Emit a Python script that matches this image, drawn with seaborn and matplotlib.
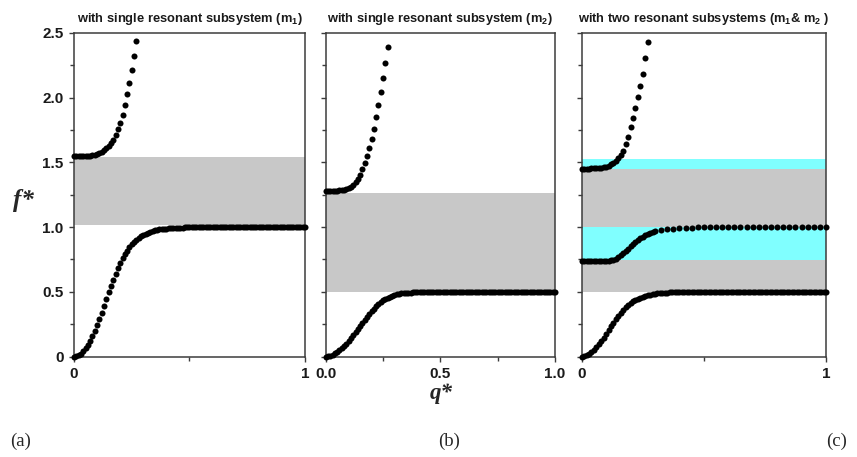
import matplotlib
matplotlib.use("Agg")
import matplotlib.pyplot as plt
import seaborn as sns

# ---- data -------------------------------------------------------------
# normalised wavenumber grid shared by the branches
q_grid = [
    0.00, 0.01, 0.02, 0.03, 0.04, 0.05, 0.06, 0.07, 0.08, 0.09,
    0.10, 0.11, 0.12, 0.13, 0.14, 0.15, 0.16, 0.17, 0.18, 0.19,
    0.20, 0.21, 0.22, 0.23, 0.24, 0.25, 0.26, 0.27, 0.28, 0.29,
    0.30, 0.31, 0.32, 0.33, 0.34, 0.35, 0.36, 0.37, 0.38, 0.39,
    0.40, 0.41, 0.42, 0.43, 0.44, 0.45, 0.46, 0.47, 0.48, 0.49,
    0.50, 0.51, 0.52, 0.53, 0.54, 0.55, 0.56, 0.57, 0.58, 0.59,
    0.60, 0.61, 0.62, 0.63, 0.64, 0.65, 0.66, 0.67, 0.68, 0.69,
    0.70, 0.71, 0.72, 0.73, 0.74, 0.75, 0.76, 0.77, 0.78, 0.79,
    0.80, 0.81, 0.82, 0.83, 0.84, 0.85, 0.86, 0.87, 0.88, 0.89,
    0.90, 0.91, 0.92, 0.93, 0.94, 0.95, 0.96, 0.97, 0.98, 0.99,
    1.00,
]

# (a) single resonator m1
a_lower = [
    0.000, 0.003, 0.010, 0.022, 0.040, 0.063, 0.090, 0.121, 0.157, 0.197,
    0.240, 0.290, 0.340, 0.392, 0.444, 0.495, 0.545, 0.593, 0.640, 0.683,
    0.722, 0.758, 0.790, 0.818, 0.843, 0.866, 0.885, 0.902, 0.917, 0.930,
    0.941, 0.950, 0.958, 0.964, 0.970, 0.975, 0.979, 0.982, 0.985, 0.987,
    0.989, 0.991, 0.992, 0.993, 0.994, 0.995, 0.996, 0.996, 0.997, 0.997,
    0.998, 0.998, 0.998, 0.999, 0.999, 0.999, 0.999, 0.999, 1.000, 1.000,
    1.000, 1.000, 1.000, 1.000, 1.000, 1.000, 1.000, 1.000, 1.000, 1.000,
    1.000, 1.000, 1.000, 1.000, 1.000, 1.000, 1.000, 1.000, 1.000, 1.000,
    1.000, 1.000, 1.000, 1.000, 1.000, 1.000, 1.000, 1.000, 1.000, 1.000,
    1.000, 1.000, 1.000, 1.000, 1.000, 1.000, 1.000, 1.000, 1.000, 1.000,
    1.000,
]
a_upper = [
    1.550, 1.550, 1.550, 1.550, 1.551, 1.551, 1.552, 1.553, 1.555, 1.559,
    1.565, 1.573, 1.584, 1.598, 1.613, 1.628, 1.648, 1.675, 1.712, 1.755,
    1.806, 1.868, 1.945, 2.027, 2.117, 2.215, 2.320, 2.440,
]
a_gap = [(1.02, 1.54)]

# (b) single resonator m2
b_lower = [
    0.000, 0.002, 0.007, 0.015, 0.026, 0.038, 0.052, 0.066, 0.082, 0.100,
    0.120, 0.141, 0.163, 0.186, 0.209, 0.233, 0.257, 0.281, 0.305, 0.328,
    0.350, 0.370, 0.389, 0.406, 0.421, 0.434, 0.445, 0.455, 0.463, 0.470,
    0.475, 0.480, 0.484, 0.487, 0.489, 0.491, 0.493, 0.494, 0.495, 0.496,
    0.497, 0.497, 0.498, 0.498, 0.498, 0.499, 0.499, 0.499, 0.499, 0.500,
    0.500, 0.500, 0.500, 0.500, 0.500, 0.500, 0.500, 0.500, 0.500, 0.500,
    0.500, 0.500, 0.500, 0.500, 0.500, 0.500, 0.500, 0.500, 0.500, 0.500,
    0.500, 0.500, 0.500, 0.500, 0.500, 0.500, 0.500, 0.500, 0.500, 0.500,
    0.500, 0.500, 0.500, 0.500, 0.500, 0.500, 0.500, 0.500, 0.500, 0.500,
    0.500, 0.500, 0.500, 0.500, 0.500, 0.500, 0.500, 0.500, 0.500, 0.500,
    0.500,
]
b_upper = [
    1.280, 1.280, 1.280, 1.280, 1.281, 1.282, 1.283, 1.285, 1.288, 1.293,
    1.301, 1.312, 1.327, 1.347, 1.373, 1.405, 1.448, 1.497, 1.553, 1.612,
    1.680, 1.760, 1.850, 1.945, 2.045, 2.150, 2.265, 2.395,
]
b_gap = [(0.50, 1.267)]

# (c) both resonators m1 & m2
c_lower = [
    0.000, 0.003, 0.010, 0.020, 0.034, 0.051, 0.071, 0.094, 0.119, 0.146,
    0.174, 0.203, 0.232, 0.261, 0.289, 0.315, 0.339, 0.361, 0.381, 0.398,
    0.413, 0.426, 0.437, 0.447, 0.455, 0.462, 0.468, 0.473, 0.477, 0.481,
    0.484, 0.487, 0.489, 0.491, 0.493, 0.494, 0.495, 0.496, 0.497, 0.497,
    0.498, 0.498, 0.498, 0.499, 0.499, 0.499, 0.499, 0.500, 0.500, 0.500,
    0.500, 0.500, 0.500, 0.500, 0.500, 0.500, 0.500, 0.500, 0.500, 0.500,
    0.500, 0.500, 0.500, 0.500, 0.500, 0.500, 0.500, 0.500, 0.500, 0.500,
    0.500, 0.500, 0.500, 0.500, 0.500, 0.500, 0.500, 0.500, 0.500, 0.500,
    0.500, 0.500, 0.500, 0.500, 0.500, 0.500, 0.500, 0.500, 0.500, 0.500,
    0.500, 0.500, 0.500, 0.500, 0.500, 0.500, 0.500, 0.500, 0.500, 0.500,
    0.500,
]
c_mid_q = [
    0.00, 0.01, 0.02, 0.03, 0.04, 0.05, 0.06, 0.07, 0.08, 0.09,
    0.10, 0.11, 0.12, 0.13, 0.14, 0.15, 0.16, 0.17, 0.18, 0.19,
    0.20, 0.21, 0.22, 0.23, 0.24, 0.25, 0.26, 0.27, 0.28, 0.29,
    0.30, 0.325, 0.350, 0.375, 0.400, 0.425, 0.450, 0.475, 0.500, 0.525,
    0.550, 0.575, 0.600, 0.625, 0.650, 0.675, 0.700, 0.725, 0.750, 0.775,
    0.800, 0.825, 0.850, 0.875, 0.900, 0.925, 0.950, 0.975, 1.000,
]
c_mid = [
    0.735, 0.735, 0.735, 0.735, 0.735, 0.735, 0.736, 0.736, 0.737, 0.738,
    0.739, 0.741, 0.744, 0.748, 0.757, 0.768, 0.782, 0.798, 0.816, 0.834,
    0.852, 0.869, 0.885, 0.900, 0.914, 0.927, 0.938, 0.948, 0.956, 0.962,
    0.967, 0.974, 0.982, 0.987, 0.991, 0.994, 0.996, 0.997, 0.998, 0.999,
    0.999, 1.000, 1.000, 1.000, 1.000, 1.000, 1.000, 1.000, 1.000, 1.000,
    1.000, 1.000, 1.000, 1.000, 1.000, 1.000, 1.000, 1.000, 1.000,
]
c_upper = [
    1.452, 1.452, 1.452, 1.452, 1.453, 1.453, 1.454, 1.455, 1.457, 1.461,
    1.466, 1.473, 1.484, 1.497, 1.514, 1.535, 1.558, 1.590, 1.640, 1.700,
    1.770, 1.845, 1.920, 2.005, 2.092, 2.185, 2.310, 2.430,
]
c_gap_bragg = [(0.499, 0.742), (0.998, 1.448)]
c_gap_local = [(0.742, 0.998), (1.448, 1.528)]

titles = [
    "with single resonant subsystem (m$_1$)",
    "with single resonant subsystem (m$_2$)",
    "with two resonant subsystems (m$_1$& m$_2$ )",
]
panel_tags = ["(a)", "(b)", "(c)"]
y_ticks = [0, 0.5, 1.0, 1.5, 2.0, 2.5]
y_ticklabels = ["0", "0.5", "1.0", "1.5", "2.0", "2.5"]

# ---- styling ----------------------------------------------------------
sns.set_style("ticks")
plt.rcParams["font.family"] = ["Liberation Sans", "DejaVu Sans"]
plt.rcParams["mathtext.default"] = "regular"

GRAY = "#c8c8c8"
CYAN = "#80ffff"
SPINE = "#3c3c3c"
W, H = 857, 457

fig = plt.figure(figsize=(W / 100, H / 100), dpi=100)


def px_axes(left, right, top=33, bottom=356.5):
    return fig.add_axes([left / W, 1 - bottom / H, (right - left) / W, (bottom - top) / H])


axes = [px_axes(74, 305), px_axes(325.7, 555), px_axes(581.7, 826)]

branches = [
    [(q_grid, a_lower), (q_grid[:len(a_upper)], a_upper)],
    [(q_grid, b_lower), (q_grid[:len(b_upper)], b_upper)],
    [(q_grid, c_lower), (c_mid_q, c_mid), (q_grid[:len(c_upper)], c_upper)],
]
bands = [
    [(a_gap, GRAY)],
    [(b_gap, GRAY)],
    [(c_gap_bragg, GRAY), (c_gap_local, CYAN)],
]

for i, ax in enumerate(axes):
    ax.set_xlim(0, 1)
    ax.set_ylim(0, 2.5)
    for spans, col in bands[i]:
        for lo, hi in spans:
            ax.axhspan(lo, hi, color=col, lw=0, zorder=0)
    for qs, fs in branches[i]:
        sns.scatterplot(x=qs, y=fs, ax=ax, color="black", s=19, linewidth=0,
                        clip_on=False, zorder=3, legend=False)

    for sp in ax.spines.values():
        sp.set_visible(True)
        sp.set_color(SPINE)
        sp.set_linewidth(1.1)

    ax.set_yticks(y_ticks)
    ax.set_yticks([0.25, 0.75, 1.25, 1.75, 2.25], minor=True)
    if i == 0:
        ax.set_yticklabels(y_ticklabels)
    else:
        ax.set_yticklabels([])

    if i == 1:
        ax.set_xticks([0, 0.5, 1.0])
        ax.set_xticklabels(["0.0", "0.5", "1.0"])
        ax.set_xticks([0.25, 0.75], minor=True)
    else:
        ax.set_xticks([0, 1])
        ax.set_xticklabels(["0", "1"])
        ax.set_xticks([0.5], minor=True)

    ax.tick_params(which="both", direction="out", color=SPINE, width=1.0,
                   top=False, right=False)
    ax.tick_params(which="major", length=3.5, labelsize=11, labelcolor="#1a1a1a")
    ax.tick_params(which="minor", length=3)
    ax.tick_params(axis="x", which="major", pad=4)
    ax.tick_params(axis="y", which="major", pad=4)
    for lab in ax.get_xticklabels() + ax.get_yticklabels():
        lab.set_fontweight("bold")

    ax.set_xlabel("")
    ax.set_ylabel("")

    cx = ax.get_position().x0 + ax.get_position().width / 2
    fig.text(cx, 1 - 22 / H, titles[i], ha="center", va="baseline",
             fontsize=9.3, fontweight="bold", color="#1a1a1a")

# axis titles
serif = ["Liberation Serif", "DejaVu Serif"]
fig.text(13 / W, 1 - 207 / H, "f*", ha="left", va="baseline", family=serif,
         fontsize=18, fontstyle="italic", fontweight="bold")
fig.text(441 / W, 1 - 399 / H, "q*", ha="center", va="baseline", family=serif,
         fontsize=16.5, fontstyle="italic", fontweight="bold")

# panel tags
for tag, x in zip(panel_tags, [10, 449, 847]):
    ha = "left" if tag == "(a)" else ("center" if tag == "(b)" else "right")
    fig.text(x / W, 1 - 446 / H, tag, ha=ha, va="baseline", family=serif,
             fontsize=13.5)

fig.savefig("out.png", dpi=100, facecolor="white")
